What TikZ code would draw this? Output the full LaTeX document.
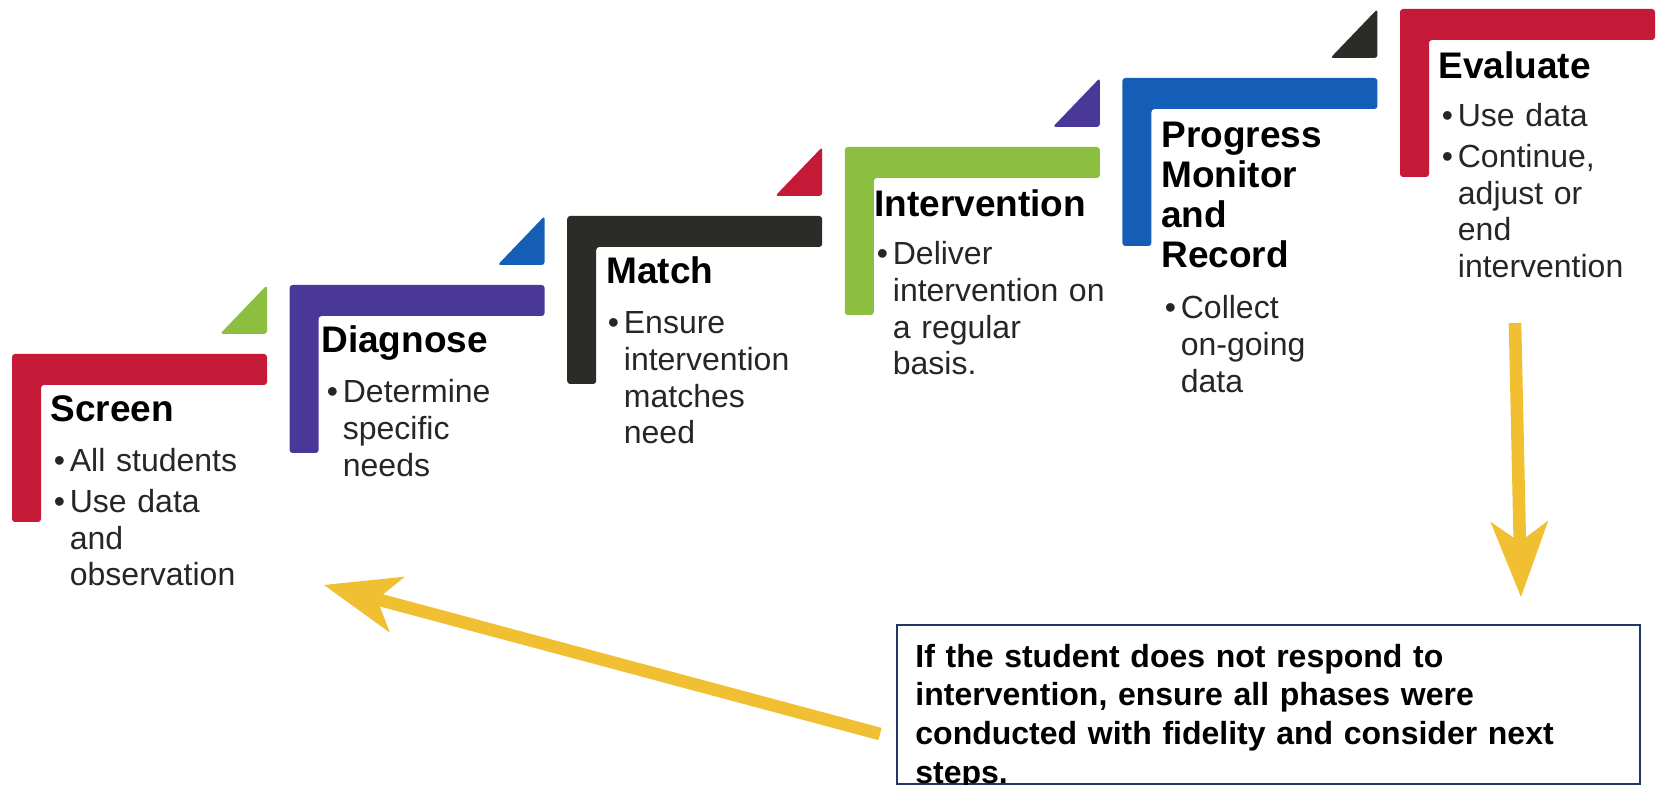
\documentclass[tikz,border=0pt]{standalone}
\usepackage{fontspec}
\setmainfont{Liberation Sans}
\usetikzlibrary{arrows.meta}

\definecolor{rtired}{HTML}{C41A38}
\definecolor{rtipurple}{HTML}{4A3898}
\definecolor{rtiblack}{HTML}{2B2B28}
\definecolor{rtigreen}{HTML}{8CBF3F}
\definecolor{rtiblue}{HTML}{155EB7}
\definecolor{rtiyellow}{HTML}{F0C032}
\definecolor{rtinavy}{HTML}{1F3864}
\definecolor{bodygrey}{HTML}{262626}

% bullet items with hanging indent
\newcommand{\itm}{\hangindent=8pt\hangafter=1\noindent\makebox[8pt][l]{\textbullet}}
\newcommand{\itmnext}{\par\vspace{2pt}\itm}

\tikzset{
  bracket/.style={fill=#1, rounded corners=1.5pt},
  stagetitle/.style={anchor=base west, inner sep=0pt, text width=130pt,
    font=\fontsize{18.5}{19.9}\selectfont\bfseries, text=black},
  stagebody/.style={anchor=base west, inner sep=0pt, text width=130pt,
    font=\fontsize{16}{18.3}\selectfont, text=bodygrey},
  yarrow/.style={draw=rtiyellow, line width=6.3pt,
    -{Stealth[length=38pt,width=29pt,inset=10.5pt,line width=0pt]}},
}

\begin{document}
\begin{tikzpicture}[x=0.5pt,y=-0.5pt]
  \useasboundingbox (0,0) rectangle (1659,785);

  % the six steps
  \foreach \i/\col in {0/rtired,1/rtipurple,2/rtiblack,3/rtigreen,4/rtiblue,5/rtired}{
    \pgfmathsetmacro{\bx}{12+277.6*\i}
    \pgfmathsetmacro{\by}{354-69*\i}
    \fill[bracket=\col] (\bx,\by) -- ++(255,0) -- ++(0,31) -- ++(-226,0)
      -- ++(0,137) -- ++(-29,0) -- cycle;
  }
  \foreach \i/\col in {1/rtigreen,2/rtiblue,3/rtired,4/rtipurple,5/rtiblack}{
    \pgfmathsetmacro{\tx}{12+277.6*(\i-1)+255}
    \pgfmathsetmacro{\ty}{354-69*\i}
    \fill[bracket=\col] (\tx,\ty) -- ++(0,49) -- ++(-47,0) -- cycle;
  }

  \node[stagetitle] (screen) at (50,422) {Screen};
  \node[stagebody] (screenbody) at (53.5,472)
    {\itm All students\itmnext Use data\newline and\newline observation\par};

  \node[stagetitle] (diagnose) at (321,353) {Diagnose};
  \node[stagebody] (diagnosebody) at (326.5,403)
    {\itm Determine\newline specific\newline needs\par};

  \node[stagetitle] (match) at (606,284) {Match};
  \node[stagebody] (matchbody) at (607.5,334)
    {\itm Ensure\newline intervention\newline matches\newline need\par};

  \node[stagetitle] (intervention) at (874,217) {Intervention};
  \node[stagebody] (interventionbody) at (876.5,265)
    {\itm Deliver\newline intervention on\newline a regular\newline basis.\par};

  \node[stagetitle] (progress) at (1161,148) {Progress\\Monitor\\and\\Record};
  \node[stagebody] (progressbody) at (1164.5,319)
    {\itm Collect\newline on-going\newline data\par};

  \node[stagetitle] (evaluate) at (1438,79) {Evaluate};
  \node[stagebody] (evaluatebody) at (1441.5,127)
    {\itm Use data\itmnext Continue,\newline adjust or\newline end\newline intervention\par};

  % the note
  \node[draw=rtinavy, line width=1pt, anchor=north west, inner sep=0pt,
    minimum width=371.5pt, minimum height=79.5pt] (note) at (896,624) {};
  \node[anchor=base west, inner sep=0pt, text width=360pt,
    font=\fontsize{16}{19.4}\selectfont\bfseries] (notetext) at (915,667)
    {If the student does not respond to\\
     intervention, ensure all phases were\\
     conducted with fidelity and consider next\\
     steps.};

  % arrows
  \coordinate (evaltail) at (1515,323);
  \coordinate (evaltip) at (1521,597);
  \coordinate (backtail) at (880,734);
  \coordinate (backtip) at (324,585);
  \draw[yarrow] (evaltail) -- (evaltip);
  \draw[yarrow] (backtail) -- (backtip);
\end{tikzpicture}
\end{document}
